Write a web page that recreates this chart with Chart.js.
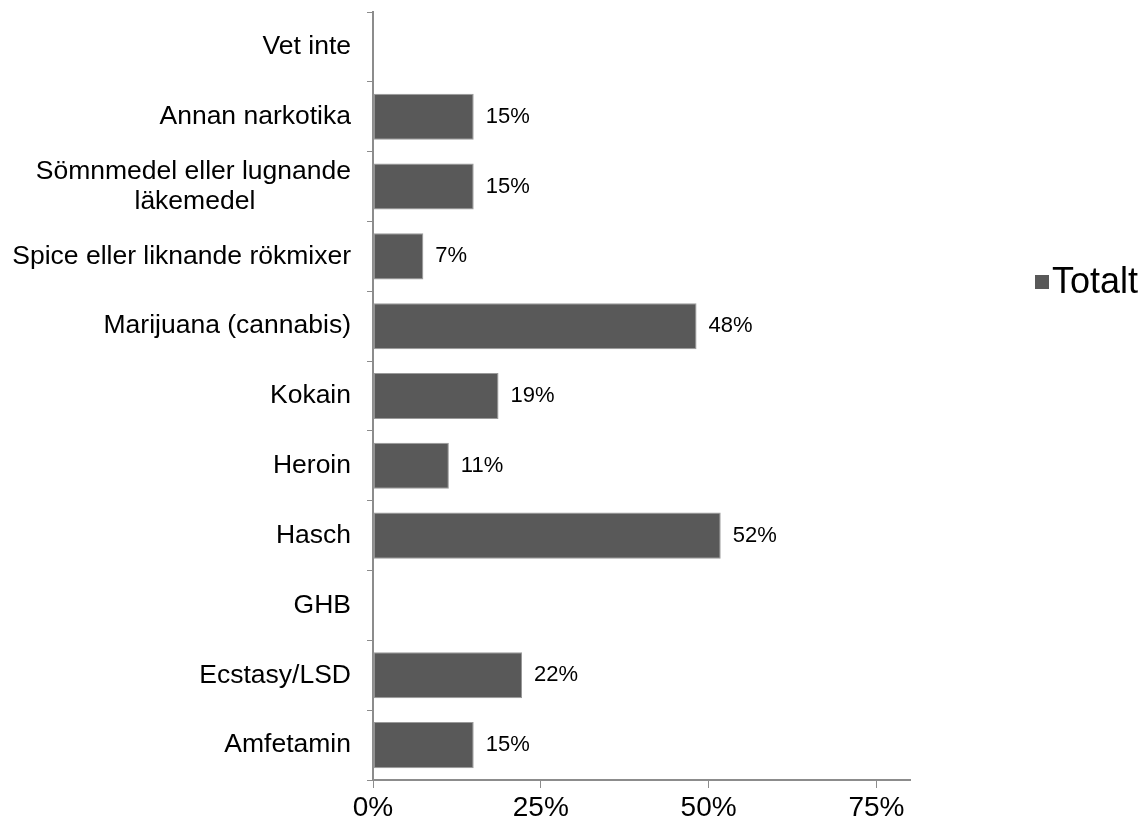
<!DOCTYPE html>
<html>
<head>
<meta charset="utf-8">
<script src="https://cdn.jsdelivr.net/npm/chart.js@4"></script>
<style>
    body { margin: 0; background: #fff; }
    #wrap { position: relative; width: 1144px; height: 832px; }
    #legend {
        position: absolute; left: 1035px; top: 260px;
        font-family: "Liberation Sans", Arial, sans-serif; font-size: 36px; color: #000;
        white-space: nowrap;
    }
    #legend span.box {
        display: inline-block; width: 14px; height: 14px; background: #595959;
        margin-right: 3px; vertical-align: 4px;
    }
</style>
</head>
<body>
<div id="wrap">
    <canvas id="myChart" width="1144" height="832"></canvas>
    <div id="legend"><span class="box"></span>Totalt</div>
</div>
<script>
// data
const categories = [
    'Vet inte',
    'Annan narkotika',
    ['Sömnmedel eller lugnande', 'läkemedel'],
    'Spice eller liknande rökmixer',
    'Marijuana (cannabis)',
    'Kokain',
    'Heroin',
    'Hasch',
    'GHB',
    'Ecstasy/LSD',
    'Amfetamin'
]
const totalt = [null, 15, 15, 7.5, 48.2, 18.7, 11.3, 51.8, null, 22.2, 15]
const totaltLabels = ['', '15%', '15%', '7%', '48%', '19%', '11%', '52%', '', '22%', '15%']
const xTicks = [0, 25, 50, 75]

const FONT = '"Liberation Sans", Arial, sans-serif'
const AXIS = '#8c8c8c'
const Y_FONT_SIZE = 26.5

// wrapped labels: pad the shorter lines with spaces so they sit centred under the longest one
const measureCtx = document.createElement('canvas').getContext('2d')
measureCtx.font = Y_FONT_SIZE + 'px ' + FONT
function centerLines(label) {
    if (!Array.isArray(label)) return label
    const widths = label.map(l => measureCtx.measureText(l).width)
    const widest = Math.max(...widths)
    const space = measureCtx.measureText(' ').width
    return label.map((l, i) => l + ' '.repeat(Math.round((widest - widths[i]) / 2 / space)))
}

// draws the percent labels next to the bars
const barLabels = {
    id: 'barLabels',
    afterDatasetsDraw(chart) {
        const ctx = chart.ctx
        const meta = chart.getDatasetMeta(0)
        ctx.save()
        ctx.font = '22px ' + FONT
        ctx.fillStyle = '#000'
        ctx.textBaseline = 'middle'
        meta.data.forEach((bar, i) => {
            if (!totaltLabels[i]) return
            ctx.fillText(totaltLabels[i], bar.x + 12, bar.y)
        })
        ctx.restore()
    }
}

const data = {
    labels: categories,
    datasets: [{
        label: 'Totalt',
        data: totalt,
        backgroundColor: '#595959',
        borderColor: '#9a9a9a',
        borderWidth: 1,
        borderSkipped: false,
        categoryPercentage: 1,
        barPercentage: 0.66
    }]
}

const config = {
    type: 'bar',
    data,
    plugins: [barLabels],
    options: {
        responsive: false,
        animation: false,
        indexAxis: 'y',
        layout: { padding: { top: 12, right: 234, bottom: 0, left: 0 } },
        plugins: {
            legend: { display: false },
            tooltip: { enabled: false }
        },
        scales: {
            x: {
                min: 0,
                max: 80,
                afterBuildTicks: scale => {
                    scale.ticks = xTicks.map(v => ({ value: v }))
                },
                afterFit: scale => {
                    scale.height = 52
                    scale.paddingLeft = 0
                    scale.paddingRight = 0
                },
                grid: {
                    drawOnChartArea: false,
                    tickLength: 8,
                    color: AXIS
                },
                border: { color: AXIS, width: 2 },
                ticks: {
                    font: { family: FONT, size: 28 },
                    color: '#000',
                    padding: 3,
                    callback: v => v + '%'
                }
            },
            y: {
                afterFit: scale => {
                    scale.width = 373
                    scale.paddingTop = 0
                    scale.paddingBottom = 0
                },
                grid: {
                    drawOnChartArea: false,
                    tickLength: 6,
                    color: AXIS,
                    offset: true
                },
                border: { color: AXIS, width: 2 },
                ticks: {
                    font: { family: FONT, size: Y_FONT_SIZE, lineHeight: 1.15 },
                    color: '#000',
                    padding: 16,
                    autoSkip: false,
                    callback: (v, i) => centerLines(categories[i])
                }
            }
        }
    }
}

const myChart = new Chart(
    document.getElementById('myChart'),
    config
)
</script>
</body>
</html>
